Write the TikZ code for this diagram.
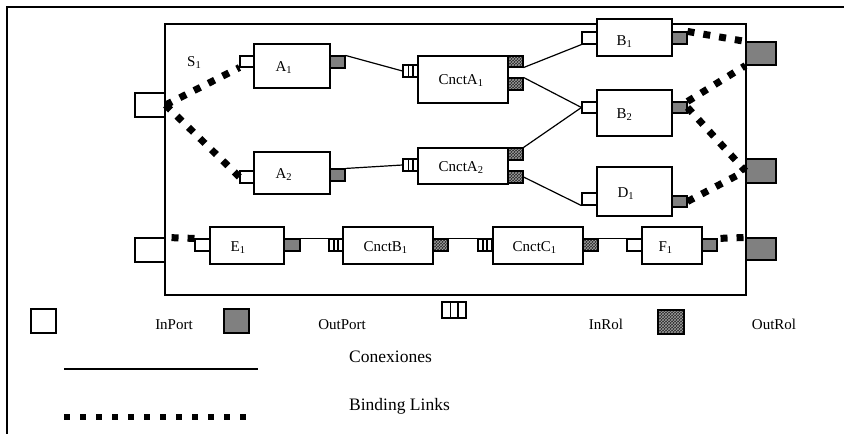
\documentclass[tikz,border=0pt]{standalone}
\usepackage{fontspec}
\setmainfont{Liberation Serif}
\usetikzlibrary{fit,calc,patterns}
\newcommand{\bx}[4]{\node[#1, fit={(#3) (#4)}] (#2) {};}
\begin{document}
\begin{tikzpicture}[x=1pt,y=-1pt,
  box/.style={draw, line width=1.1pt, fill=white, inner sep=0pt},
  inport/.style={draw, line width=1.1pt, fill=white, inner sep=0pt},
  outport/.style={draw, line width=1.1pt, fill=gray, inner sep=0pt},
  inrolsty/.style={draw, line width=1.1pt, fill=white, inner sep=0pt,
    path picture={
      \draw[line width=1.5pt] ($(path picture bounding box.south west)!0.36!(path picture bounding box.south east)$) -- ($(path picture bounding box.north west)!0.36!(path picture bounding box.north east)$);
      \draw[line width=1.5pt] ($(path picture bounding box.south west)!0.66!(path picture bounding box.south east)$) -- ($(path picture bounding box.north west)!0.66!(path picture bounding box.north east)$);
    }},
  outrolsty/.style={draw, line width=1.1pt, inner sep=0pt, preaction={fill=black!85}, pattern=crosshatch, pattern color=gray!75},
  lbl/.style={inner sep=0pt, font=\fontsize{15}{18}\selectfont},
  leg/.style={inner sep=0pt, font=\fontsize{15}{18}\selectfont},
  legbig/.style={inner sep=0pt, font=\fontsize{17.5}{21}\selectfont},
  conn/.style={line width=1.2pt},
  bind/.style={line width=7pt, dash pattern=on 7pt off 9pt},
]
\useasboundingbox (0,0) rectangle (844,434);
% outer frame
\coordinate (frTR) at (844,7);
\coordinate (frTL) at (7,7);
\coordinate (frBL) at (7,434);
\draw[line width=2pt] (frTR) -- (frTL) -- (frBL);
% system box
\bx{draw, line width=1.5pt, inner sep=0pt}{sys}{165,24}{746,295}
% boxes
\bx{box}{A1}{254,44}{330,88}
\bx{inport}{A1in}{240,56}{254,67}
\bx{outport}{A1out}{330,56}{345,68}
\bx{box}{A2}{254,152}{330,194}
\bx{inport}{A2in}{240,171}{254,183}
\bx{outport}{A2out}{330,169}{345,181}
\bx{box}{CA1}{418,56}{508,103}
\bx{inrolsty}{CA1in}{403,65}{418,77}
\bx{outrolsty}{CA1oa}{508,56}{523,67}
\bx{outrolsty}{CA1ob}{508,78}{523,90}
\bx{box}{CA2}{418,148}{508,184}
\bx{inrolsty}{CA2in}{403,159}{418,171}
\bx{outrolsty}{CA2oa}{508,148}{523,160}
\bx{outrolsty}{CA2ob}{508,171}{523,183}
\bx{box}{B1}{597,19}{672,56}
\bx{inport}{B1in}{582,32}{597,44}
\bx{outport}{B1out}{672,32}{687,44}
\bx{box}{B2}{597,90}{672,136}
\bx{inport}{B2in}{582,102}{597,113}
\bx{outport}{B2out}{672,102}{687,113}
\bx{box}{D1}{597,167}{672,216}
\bx{inport}{D1in}{582,193}{597,205}
\bx{outport}{D1out}{672,196}{687,207}
\bx{box}{E1}{210,227}{284,264}
\bx{inport}{E1in}{195,239}{210,251}
\bx{outport}{E1out}{284,239}{300,251}
\bx{box}{CB1}{343,227}{433,264}
\bx{inrolsty}{CB1in}{329,239}{343,251}
\bx{outrolsty}{CB1out}{433,239}{448,251}
\bx{box}{CC1}{493,227}{583,264}
\bx{inrolsty}{CC1in}{478,239}{492,251}
\bx{outrolsty}{CC1out}{583,239}{598,251}
\bx{box}{F1}{642,227}{702,264}
\bx{inport}{F1in}{627,239}{642,251}
\bx{outport}{F1out}{702,239}{717,251}
% system ports
\bx{inport}{Sp1}{135,93}{165,117}
\bx{inport}{Sp2}{135,238}{165,262}
\bx{outport}{Op1}{746,42}{776,65}
\bx{outport}{Op2}{746,159}{776,183}
\bx{outport}{Op3}{746,238}{776,260}
% labels
\node[lbl, anchor=base west] (S1t) at (187,66) {S\textsubscript{1}};
\node[lbl, anchor=base west] (A1t) at ([xshift=22pt,yshift=-5pt]A1.west) {A\textsubscript{1}};
\node[lbl, anchor=base west] (A2t) at ([xshift=22pt,yshift=-5pt]A2.west) {A\textsubscript{2}};
\node[lbl, anchor=base west] (CA1t) at ([xshift=21pt,yshift=-5pt]CA1.west) {CnctA\textsubscript{1}};
\node[lbl, anchor=base west] (CA2t) at ([xshift=21pt,yshift=-5pt]CA2.west) {CnctA\textsubscript{2}};
\node[lbl, anchor=base west] (B1t) at ([xshift=20pt,yshift=-8pt]B1.west) {B\textsubscript{1}};
\node[lbl, anchor=base west] (B2t) at ([xshift=20pt,yshift=-5pt]B2.west) {B\textsubscript{2}};
\node[lbl, anchor=base west] (D1t) at ([xshift=21pt,yshift=-6pt]D1.west) {D\textsubscript{1}};
\node[lbl, anchor=base west] (E1t) at ([xshift=21pt,yshift=-6pt]E1.west) {E\textsubscript{1}};
\node[lbl, anchor=base west] (CB1t) at ([xshift=21pt,yshift=-6pt]CB1.west) {CnctB\textsubscript{1}};
\node[lbl, anchor=base west] (CC1t) at ([xshift=20pt,yshift=-6pt]CC1.west) {CnctC\textsubscript{1}};
\node[lbl, anchor=base west] (F1t) at ([xshift=17pt,yshift=-6pt]F1.west) {F\textsubscript{1}};
% connections
\draw[conn] (A1out.north east) -- (CA1in.west);
\draw[conn] (A2out.north east) -- (CA2in.west);
\draw[conn] (CA1oa.south east) -- (B1in.south west);
\draw[conn] (CA1ob.north east) -- (B2in.west);
\draw[conn] (CA2oa.north east) -- (B2in.west);
\draw[conn] (CA2ob.east) -- (D1in.south west);
\draw[conn] (E1out.north east) -- (CB1in.north west);
\draw[conn] (CB1out.north east) -- (CC1in.north west);
\draw[conn] (CC1out.north east) -- (F1in.north west);
% binding links
\draw[bind] (Sp1.east) -- (A1in.south west);
\draw[bind] (Sp1.east) -- (A2in.west);
\draw[bind] (B1out.north east) -- (Op1.north west);
\draw[bind] (B2out.north east) -- (Op1.south west);
\draw[bind] (B2out.east) -- (Op2.west);
\draw[bind] (D1out.east) -- (Op2.west);
\draw[bind, dash phase=-6pt] (Sp2.north east) -- (E1in.north west);
\draw[bind, dash phase=-3pt] (F1out.north east) -- (Op3.north west);
% legend
\bx{inport}{LgIn}{31,309}{56,333}
\node[leg, anchor=base] (LgInT) at (174,329) {InPort};
\bx{outport}{LgOut}{224,309}{249,333}
\node[leg, anchor=base] (LgOutT) at (342,329) {OutPort};
\bx{inrolsty}{LgInR}{442,302}{466,318}
\node[leg, anchor=base] (LgInRT) at (606,329) {InRol};
\bx{outrolsty}{LgOutR}{658,310}{684,334}
\node[leg, anchor=base] (LgOutRT) at (774,329) {OutRol};
\node[legbig, anchor=base west] (LgConT) at (349,362) {Conexiones};
\coordinate (LgCa) at (64,369);
\coordinate (LgCb) at (258,369);
\draw[conn] (LgCa) -- (LgCb);
\node[legbig, anchor=base west] (LgBindT) at (349,410) {Binding Links};
\coordinate (LgBa) at (64,417);
\coordinate (LgBb) at (247,417);
\draw[line width=6.5pt, dash pattern=on 6pt off 10pt] (LgBa) -- (LgBb);
\end{tikzpicture}
\end{document}
